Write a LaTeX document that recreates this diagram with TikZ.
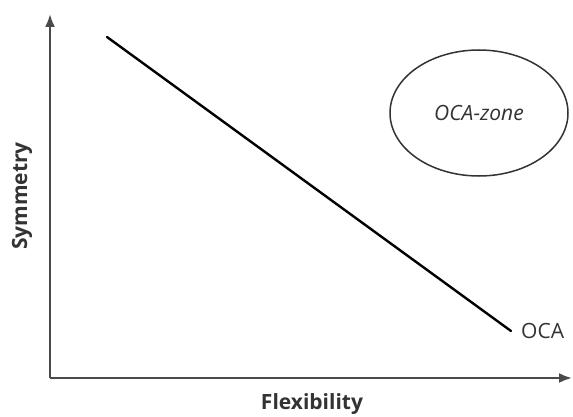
\documentclass[tikz,border=0pt]{standalone}
\usepackage{fontspec}
\setmainfont{Open Sans}
\usetikzlibrary{arrows.meta}
\usetikzlibrary{positioning}
\usetikzlibrary{shapes.geometric}
\newcommand{\picsizex}{573}
\newcommand{\picsizey}{416}
\newcommand{\labelfont}{\fontsize{21}{25}\selectfont}
\newcommand{\axisfont}{\fontsize{21}{25}\selectfont\bfseries}
\definecolor{axisgray}{HTML}{4A4A4A}
\definecolor{textgray}{HTML}{333333}

\begin{document}
\begin{tikzpicture}[x=1pt,y=1pt,
    axis/.style={draw=axisgray,line width=2.2pt,-{Latex[length=13pt,width=10pt]}},
    trend/.style={draw=black,line width=2.4pt},
    zone/.style={ellipse,draw=black!80,line width=1.5pt,
      minimum width=178pt,minimum height=126pt,inner sep=0pt},
    axislabel/.style={font=\axisfont,text=textgray},
    curvelabel/.style={font=\labelfont,text=textgray,inner sep=0pt}]
    \useasboundingbox (0,0) rectangle (\picsizex,\picsizey);
    % axes
    \coordinate (origin) at (50,38);
    \coordinate (ytop) at (50,402);
    \coordinate (xend) at (572,38);
    \draw[axis] (origin) -- (ytop);
    \draw[axis] (origin) -- (xend);
    \node[axislabel,rotate=90] (symmetry) at (22,220) {Symmetry};
    \node[axislabel] (flexibility) at (312,12) {Flexibility};
    % oca line
    \coordinate (high) at (107,379);
    \coordinate (low) at (511,85);
    \draw[trend,line cap=round] (high) -- (low);
    \node[curvelabel,right=10pt of low] (oca) {OCA};
    % zone
    \node[zone,font=\labelfont\itshape,text=textgray] (ocazone) at (479,303) {OCA-zone};
\end{tikzpicture}
\end{document}
